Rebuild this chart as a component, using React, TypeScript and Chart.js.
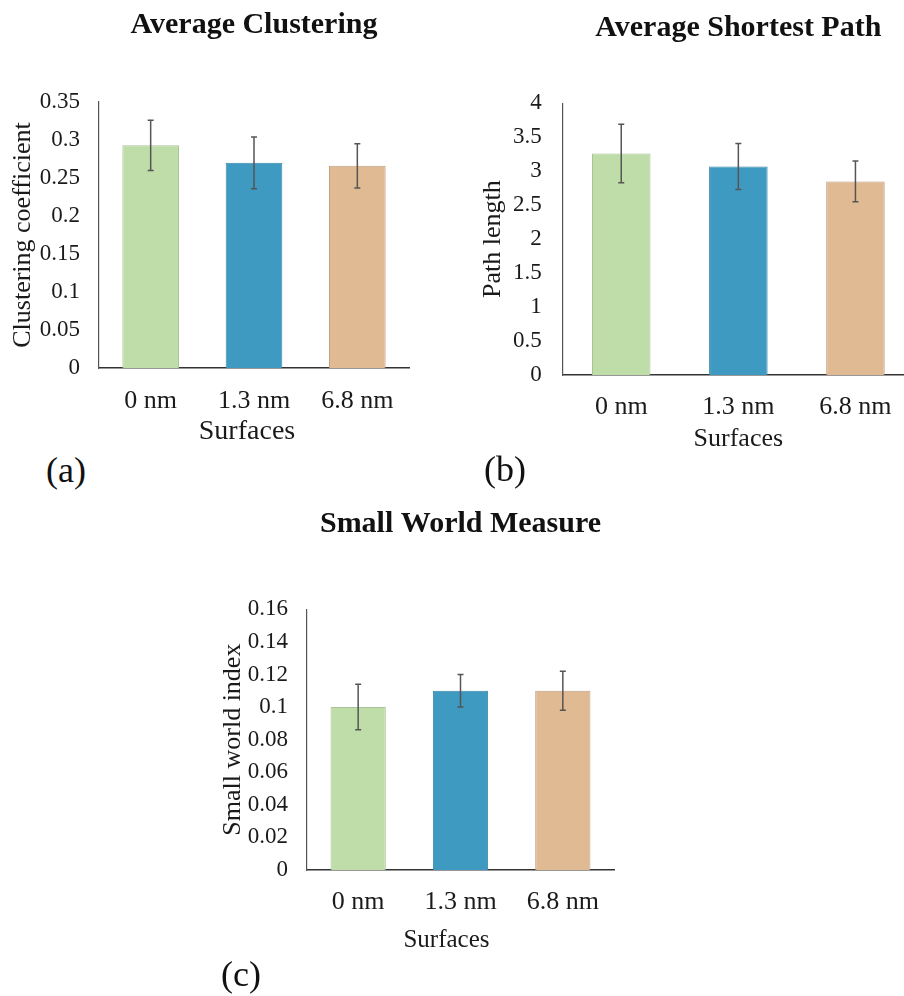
import React, { useEffect, useRef } from "react";
import { Chart, registerables } from "chart.js";

Chart.register(...registerables);

// ---------- data ----------
const categories = ["0 nm", "1.3 nm", "6.8 nm"];
const xAxisTitle = "Surfaces";

const clusteringValues = [0.293, 0.27, 0.266];
const clusteringErrors = [0.033, 0.034, 0.029];
const clusteringTicks = [0, 0.05, 0.1, 0.15, 0.2, 0.25, 0.3, 0.35];

const pathValues = [3.26, 3.07, 2.85];
const pathErrors = [0.43, 0.34, 0.3];
const pathTicks = [0, 0.5, 1, 1.5, 2, 2.5, 3, 3.5, 4];

const smallWorldValues = [0.1, 0.11, 0.11];
const smallWorldErrors = [0.014, 0.01, 0.012];
const smallWorldTicks = [0, 0.02, 0.04, 0.06, 0.08, 0.1, 0.12, 0.14, 0.16];

const barColors = ["#BFDDA8", "#3F9AC1", "#E0BA92"];
const barBorders = ["#A9C396", "#3A86A8", "#BFA080"];

const FONT = '"Liberation Serif", "Times New Roman", Times, serif';

// ---------- error bar plugin ----------
const errorBarPlugin = {
  id: "errorBars",
  afterDatasetsDraw(chart: any, _args: any, opts: any) {
    const errors: number[] = opts.errors || [];
    const values = chart.data.datasets[0].data as number[];
    const meta = chart.getDatasetMeta(0);
    const yScale = chart.scales.y;
    const ctx = chart.ctx;
    const cap = opts.cap ?? 3;
    ctx.save();
    ctx.strokeStyle = opts.color || "#555";
    ctx.lineWidth = opts.width || 1.5;
    meta.data.forEach((bar: any, i: number) => {
      const x = bar.x;
      const top = yScale.getPixelForValue(values[i] + errors[i]);
      const bottom = yScale.getPixelForValue(values[i] - errors[i]);
      ctx.beginPath();
      ctx.moveTo(x, top);
      ctx.lineTo(x, bottom);
      ctx.moveTo(x - cap, top);
      ctx.lineTo(x + cap, top);
      ctx.moveTo(x - cap, bottom);
      ctx.lineTo(x + cap, bottom);
      ctx.stroke();
    });
    ctx.restore();
  },
};

// ---------- x-axis title with horizontal offset ----------
const xTitlePlugin = {
  id: "xTitle",
  afterDraw(chart: any, _args: any, opts: any) {
    const x = chart.scales.x;
    const ctx = chart.ctx;
    const size = opts.size || 26;
    const lh = size * 1.2;
    ctx.save();
    ctx.font = `${size}px ${FONT}`;
    ctx.fillStyle = opts.color || "#1a1a1a";
    ctx.textAlign = "center";
    ctx.textBaseline = "middle";
    const cx = (chart.chartArea.left + chart.chartArea.right) / 2 + (opts.dx || 0);
    const cy = x.bottom - lh / 2 - (opts.pb || 0);
    ctx.fillText(opts.text, cx, cy);
    ctx.restore();
  },
};

type Geom = {
  left: number;
  top: number;
  width: number;
  height: number;
  padRight: number;
  yAxisWidth: number;
  xAxisHeight: number;
  titlePadTop: number;
  titlePadBottom: number;
  yTickPad: number;
  yTitlePadTop: number;
  xTickPad: number;
  xTitleSize: number;
  xTitleDx: number;
  barPct: number;
};

type PanelProps = {
  title: string;
  yTitle: string;
  values: number[];
  errors: number[];
  ticks: number[];
  geom: Geom;
};

function BarPanel({ title, yTitle, values, errors, ticks, geom }: PanelProps) {
  const ref = useRef<HTMLCanvasElement | null>(null);

  useEffect(() => {
    if (!ref.current) return;
    const chart = new Chart(ref.current, {
      type: "bar",
      data: {
        labels: categories,
        datasets: [
          {
            data: values,
            backgroundColor: barColors,
            borderColor: barBorders,
            borderWidth: 1,
            barPercentage: geom.barPct,
            categoryPercentage: 1,
          },
        ],
      },
      options: {
        responsive: false,
        animation: false,
        devicePixelRatio: 1,
        layout: { padding: { left: 0, right: geom.padRight, top: 0, bottom: 0 } },
        plugins: {
          legend: { display: false },
          tooltip: { enabled: false },
          title: {
            display: true,
            text: title,
            fullSize: false,
            color: "#111",
            font: { family: FONT, size: 30, weight: "bold", lineHeight: 1.2 },
            padding: { top: geom.titlePadTop, bottom: geom.titlePadBottom },
          },
          errorBars: { errors, color: "#555", width: 1.5, cap: 3 },
          xTitle: { text: xAxisTitle, size: geom.xTitleSize, dx: geom.xTitleDx, pb: 0, color: "#1a1a1a" },
        } as any,
        scales: {
          x: {
            type: "category",
            offset: true,
            grid: { display: false, drawTicks: false },
            border: { display: true, color: "#333", width: 1.5 },
            ticks: {
              color: "#1a1a1a",
              padding: geom.xTickPad,
              font: { family: FONT, size: 26, lineHeight: 1.2 },
              maxRotation: 0,
              autoSkip: false,
            },
            title: { display: false },
            afterFit: (s: any) => {
              s.height = geom.xAxisHeight;
            },
          },
          y: {
            type: "linear",
            min: ticks[0],
            max: ticks[ticks.length - 1],
            grid: { display: false, drawTicks: false },
            border: { display: true, color: "#555", width: 1.2 },
            ticks: {
              color: "#1a1a1a",
              padding: geom.yTickPad,
              font: { family: FONT, size: 23, lineHeight: 1.2 },
              callback: (v: any) => String(v),
            },
            afterBuildTicks: (s: any) => {
              s.ticks = ticks.map((v) => ({ value: v }));
            },
            title: {
              display: true,
              text: yTitle,
              color: "#1a1a1a",
              font: { family: FONT, size: 26, lineHeight: 1.2 },
              padding: { top: geom.yTitlePadTop, bottom: 0 },
            },
            afterFit: (s: any) => {
              s.width = geom.yAxisWidth;
            },
          },
        },
      } as any,
      plugins: [errorBarPlugin as any, xTitlePlugin as any],
    });
    return () => chart.destroy();
  }, []);

  return (
    <canvas
      ref={ref}
      width={geom.width}
      height={geom.height}
      style={{
        position: "absolute",
        left: geom.left,
        top: geom.top,
        width: geom.width,
        height: geom.height,
        display: "block",
      }}
    />
  );
}

const panelLabelStyle = (left: number, top: number): React.CSSProperties => ({
  position: "absolute",
  left,
  top,
  fontFamily: FONT,
  fontSize: 36,
  lineHeight: "36px",
  color: "#111",
  whiteSpace: "nowrap",
});

export default function App() {
  return (
    <div
      style={{
        position: "absolute",
        left: 0,
        top: 0,
        width: 904,
        height: 996,
        overflow: "hidden",
        background: "#ffffff",
      }}
    >
      <BarPanel
        title="Average Clustering"
        yTitle="Clustering coefficient"
        values={clusteringValues}
        errors={clusteringErrors}
        ticks={clusteringTicks}
        geom={{
          left: 0,
          top: 0,
          width: 430,
          height: 448,
          padRight: 21,
          yAxisWidth: 99,
          xAxisHeight: 80,
          titlePadTop: 7.2,
          titlePadBottom: 58.8,
          yTickPad: 19,
          yTitlePadTop: 7.5,
          xTickPad: 18,
          xTitleSize: 28,
          xTitleDx: -7,
          barPct: 0.548,
        }}
      />
      <BarPanel
        title="Average Shortest Path"
        yTitle="Path length"
        values={pathValues}
        errors={pathErrors}
        ticks={pathTicks}
        geom={{
          left: 470,
          top: 0,
          width: 460,
          height: 455,
          padRight: 16,
          yAxisWidth: 92.7,
          xAxisHeight: 80,
          titlePadTop: 10,
          titlePadBottom: 57.3,
          yTickPad: 21,
          yTitlePadTop: 8,
          xTickPad: 17,
          xTitleSize: 26,
          xTitleDx: 0,
          barPct: 0.5,
        }}
      />
      <BarPanel
        title="Small World Measure"
        yTitle="Small world index"
        values={smallWorldValues}
        errors={smallWorldErrors}
        ticks={smallWorldTicks}
        geom={{
          left: 200,
          top: 490,
          width: 440,
          height: 465,
          padRight: 26,
          yAxisWidth: 107,
          xAxisHeight: 85,
          titlePadTop: 16,
          titlePadBottom: 67.3,
          yTickPad: 19,
          yTitlePadTop: 18,
          xTickPad: 16.5,
          xTitleSize: 25,
          xTitleDx: -14,
          barPct: 0.54,
        }}
      />
      <div style={panelLabelStyle(46, 452)}>(a)</div>
      <div style={panelLabelStyle(484, 451)}>(b)</div>
      <div style={panelLabelStyle(221, 956)}>(c)</div>
    </div>
  );
}
